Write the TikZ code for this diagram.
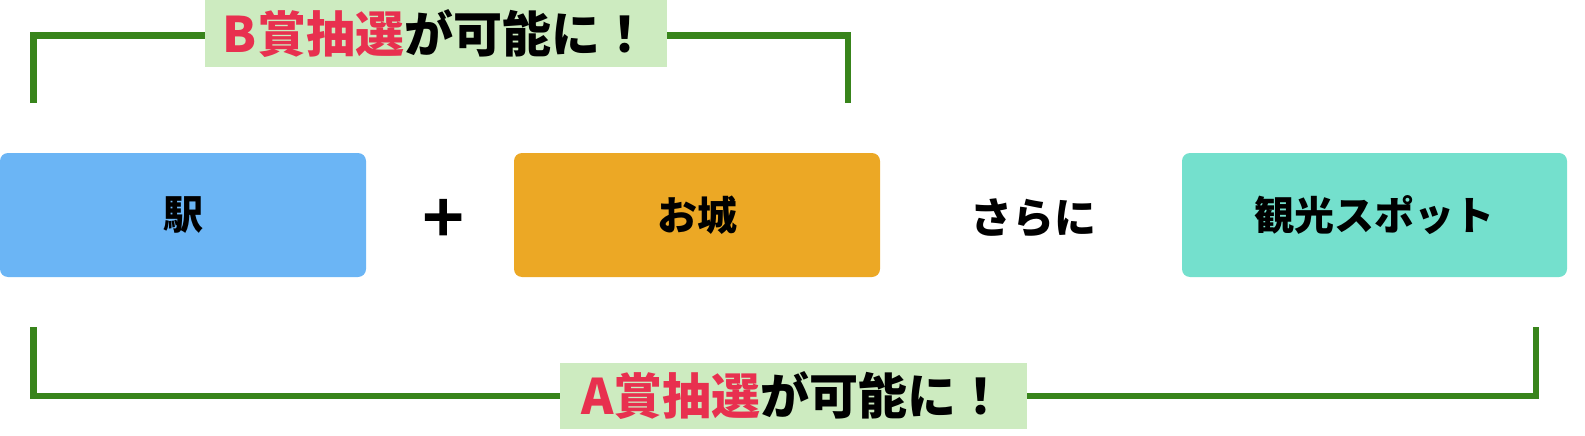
\documentclass[tikz,border=0pt]{standalone}
\usepackage{fontspec}
\setmainfont{Noto Sans CJK JP}
\usepackage{xcolor}
\usepackage{tikz}
\usetikzlibrary{positioning}

\definecolor{ekiblue}{HTML}{6BB5F5}
\definecolor{shiroorange}{HTML}{ECA825}
\definecolor{spotteal}{HTML}{74E0CD}
\definecolor{bracketgreen}{HTML}{38841B}
\definecolor{labelgreen}{HTML}{CDEBC0}
\definecolor{prizered}{HTML}{E8304F}

\tikzset{
    place/.style={rounded corners=8pt, inner sep=0pt, minimum height=124pt,
        font=\bfseries\fontsize{40}{40}\selectfont},
    bracket/.style={draw=bracketgreen, line width=6.5pt},
    prize/.style={fill=labelgreen, inner sep=0pt, minimum height=67pt,
        font=\bfseries\fontsize{49}{49}\selectfont}
}

\begin{document}
\begin{tikzpicture}[x=1pt, y=-1pt]
        \useasboundingbox (0,0) rectangle (1585,436);

        % the three places
        \node[place, fill=ekiblue, minimum width=366pt] (eki) at (183,215) {駅};
        \node[place, fill=shiroorange, minimum width=366pt] (shiro) at (697,215) {お城};
        \node[place, fill=spotteal, minimum width=385pt] (spot) at (1374.5,215) {観光スポット};

        \node[font=\bfseries\fontsize{50}{50}\selectfont\addfontfeatures{FakeBold=3}] (plus) at (443,218) {＋};
        \node[font=\bfseries\fontsize{42}{42}\selectfont] (sarani) at (1033,218) {さらに};

        % B prize bracket
        \coordinate (bl) at (33.5,103);
        \coordinate (br) at (848,103);
        \coordinate (bmid) at (436,35.5);
        \draw[bracket] (bl) |- (bmid) -| (br);
        \node[prize, minimum width=462pt] (bprize) at (436,33.5) {\textcolor{prizered}{B賞抽選}が可能に！};

        % A prize bracket
        \coordinate (al) at (33.5,327);
        \coordinate (ar) at (1536,327);
        \coordinate (amid) at (793.5,396);
        \draw[bracket] (al) |- (amid) -| (ar);
        \node[prize, minimum width=467pt, minimum height=66pt] (aprize) at (amid) {\textcolor{prizered}{A賞抽選}が可能に！};

    \end{tikzpicture}
\end{document}
